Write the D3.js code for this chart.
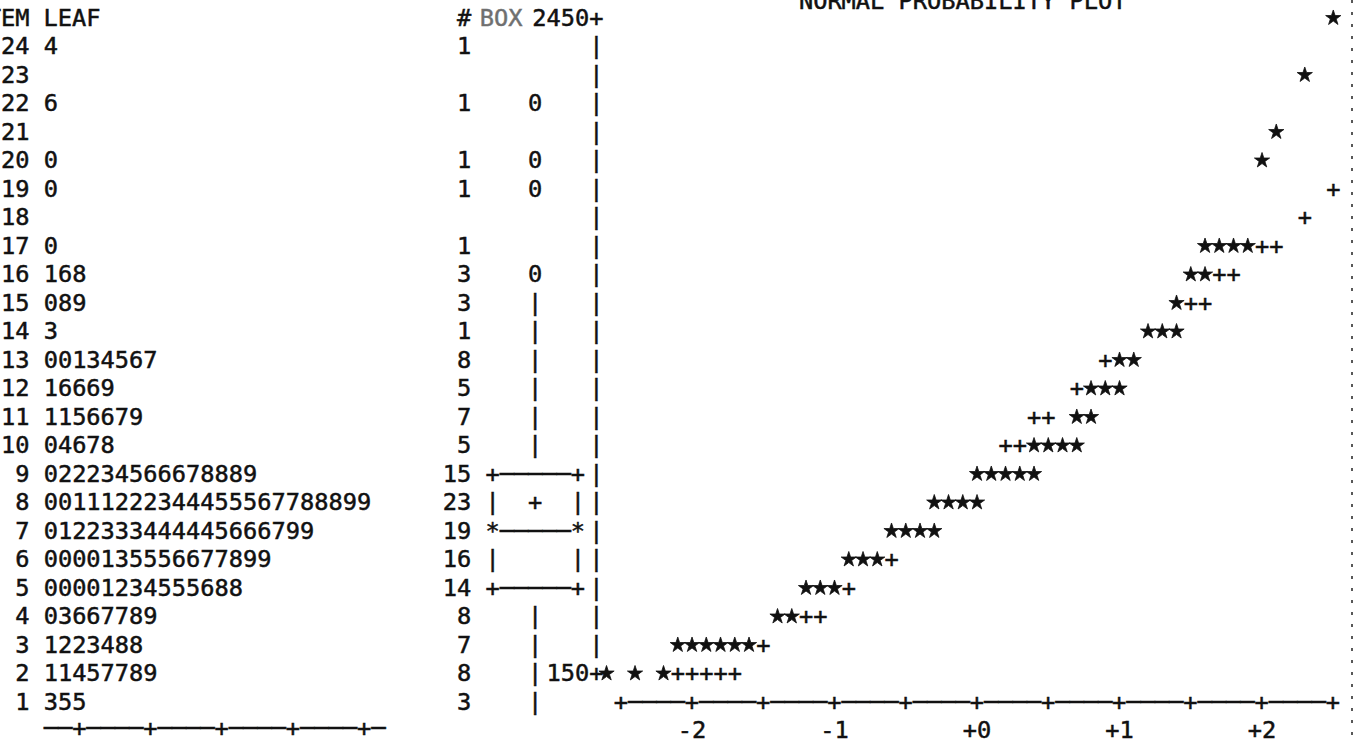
<!DOCTYPE html>
<html>
<head>
<meta charset="utf-8">
<script src="https://cdn.jsdelivr.net/npm/d3@7"></script>
<style>
  html, body { margin: 0; padding: 0; background: #fff; }
  svg { display: block; }
  text { font-family: "DejaVu Sans Mono", monospace; font-size: 23.67px; fill: #111; stroke: #111; stroke-width: 0.5px; }
</style>
</head>
<body>
<svg id="chart" width="1357" height="743"></svg>
<script>
// stem and leaf display (leaf unit 10)
var stems = d3.range(24, 0, -1);
var leaves = ["4", "", "6", "", "0", "0", "", "0", "168", "089", "3", "00134567", "16669",
    "1156679", "04678", "022234566678889", "00111222344455567788899", "0122333444445666799",
    "0000135556677899", "00001234555688", "03667789", "1223488", "11457789", "355"];
var counts = ["1", "", "1", "", "1", "1", "", "1", "3", "3", "1", "8", "5",
    "7", "5", "15", "23", "19", "16", "14", "8", "7", "8", "3"];

// boxplot, in stem units
var boxQ1 = 5, boxMedian = 7, boxQ3 = 9, boxMean = 8;
var whiskerLow = 1, whiskerHigh = 15;
var outlierStems = [22, 20, 19, 16];

// normal probability plot: one printed line each (level, first normal score, marks)
var probLevels = [2450, 2250, 2050, 1950, 1850, 1750, 1650, 1550, 1450, 1350, 1250,
    1150, 1050, 950, 850, 750, 650, 550, 450, 350, 250, 150];
var probStart = [2.5, 2.3, 2.1, 2.0, 2.5, 2.3, 1.6, 1.5, 1.4, 1.2, 0.9,
    0.7, 0.4, 0.2, 0.0, -0.3, -0.6, -0.9, -1.2, -1.4, -2.1, -2.6];
var probMarks = ["*", "*", "*", "*", "+", "+", "****++", "**++", "*++", "***", "+**",
    "+***", "++ **", "++****", "*****", "****", "****", "***+", "***+", "**++", "******+", "* * *+++++"];

var yTickValues = [2450, 150];
var xTickValues = [-2, -1, 0, 1, 2];
var xTickLabels = ["-2", "-1", "+0", "+1", "+2"];

var svg = d3.select("#chart"),
    charW = 14.25,
    baseOff = 8.5,
    axisShift = 4;

//printer grid: line 0 is the header, line 25 the bottom labels
var lineY = d3.scaleLinear().domain([0, 25]).range([17, 17 + 25 * 28.5]);
var stemY = d3.scaleLinear().domain([24, 1]).range([lineY(1), lineY(24)]);

function colX(c) {
    return 0.9 + c * charW;
}

//normal plot scales
var x = d3.scaleLinear().domain([-2.5, 2.5]).range([colX(43) + charW / 2, colX(93) + charW / 2]);
var y = d3.scaleLinear().domain([2450, 150]).range([lineY(0), lineY(23)]);

//title, cut by the top of the page
svg.append("text")
    .attr("x", colX(56))
    .attr("y", 9)
    .text("NORMAL PROBABILITY PLOT");

//headers
svg.append("text").attr("x", colX(-2)).attr("y", lineY(0) + baseOff).text("STEM LEAF");
svg.append("text").attr("x", colX(32)).attr("y", lineY(0) + baseOff).text("#");
svg.append("text").attr("x", colX(33.6)).attr("y", lineY(0) + baseOff).style("opacity", 0.6).text("BOX");

//stems, leaves, counts
var rows = svg.append("g").attr("class", "stem-leaf")
    .selectAll("g")
    .data(stems)
    .enter().append("g")
    .attr("transform", function(d) {
        return "translate(0," + (stemY(d) + baseOff) + ")";
    });

rows.append("text")
    .attr("x", colX(2))
    .attr("text-anchor", "end")
    .text(function(d) { return d; });

rows.append("text")
    .attr("x", colX(3))
    .text(function(d, i) { return leaves[i]; });

rows.append("text")
    .attr("x", colX(33))
    .attr("text-anchor", "end")
    .text(function(d, i) { return counts[i]; });

//boxplot drawn like the printer does it
function boxLine(k) {
    if (outlierStems.indexOf(k) >= 0) return "   0";
    if (k == boxQ1 || k == boxQ3) return "+\u2500\u2500\u2500\u2500\u2500+";
    if (k == boxMedian) return "*\u2500\u2500\u2500\u2500\u2500*";
    if (k > boxQ1 && k < boxQ3) return k == boxMean ? "|  +  |" : "|     |";
    if ((k >= whiskerLow && k < boxQ1) || (k > boxQ3 && k <= whiskerHigh)) return "   |";
    return "";
}

svg.append("g").attr("class", "boxplot")
    .selectAll("text")
    .data(stems)
    .enter().append("text")
    .attr("x", colX(34))
    .attr("y", function(d) { return stemY(d) + baseOff; })
    .style("white-space", "pre")
    .text(boxLine);

//stem leaf footer
svg.append("text")
    .attr("x", colX(3))
    .attr("y", lineY(25) + baseOff - 2)
    .style("white-space", "pre")
    .text("\u2500\u2500+\u2500\u2500\u2500\u2500+\u2500\u2500\u2500\u2500+\u2500\u2500\u2500\u2500+\u2500\u2500\u2500\u2500+\u2500");

//vertical axis of the normal plot
var axisG = svg.append("g").attr("class", "prob-axis");

axisG.selectAll(".ytick")
    .data(yTickValues)
    .enter().append("text")
    .attr("class", "ytick")
    .attr("x", colX(42) + axisShift)
    .attr("y", function(d) { return y(d) + baseOff; })
    .attr("text-anchor", "end")
    .text(function(d) { return d + "+"; });

axisG.selectAll(".ybar")
    .data(d3.range(1, 23))
    .enter().append("text")
    .attr("class", "ybar")
    .attr("x", colX(41) + axisShift)
    .attr("y", function(d) { return lineY(d) + baseOff; })
    .text("|");

//horizontal axis: a tick every half unit
var axisChars = d3.range(51).map(function(i) {
    return i % 5 == 0 ? "+" : "\u2500";
}).join("");

axisG.append("text")
    .attr("x", x(-2.5) - charW / 2)
    .attr("y", lineY(24) + baseOff)
    .text(axisChars);

axisG.selectAll(".xlabel")
    .data(xTickValues)
    .enter().append("text")
    .attr("class", "xlabel")
    .attr("x", function(d) { return x(d); })
    .attr("y", lineY(25) + baseOff)
    .attr("text-anchor", "middle")
    .text(function(d, i) { return xTickLabels[i]; });

//points (*) and reference line (+)
var marks = [];
probLevels.forEach(function(level, i) {
    probMarks[i].split("").forEach(function(ch, j) {
        if (ch == " ") return;
        marks.push({ level: level, z: Math.round(probStart[i] * 10 + j) / 10, ch: ch });
    });
});

var star = d3.symbol().type(d3.symbolStar).size(72);

svg.append("g")
    .selectAll("path")
    .data(marks.filter(function(d) { return d.ch == "*"; }))
    .enter().append("path")
    .attr("d", star)
    .attr("transform", function(d) {
        return "translate(" + x(d.z) + "," + (y(d.level) + 1) + ")";
    })
    .style("fill", "#111")
    .style("stroke", "#111")
    .style("stroke-width", 0.8);

svg.append("g")
    .selectAll("text")
    .data(marks.filter(function(d) { return d.ch == "+"; }))
    .enter().append("text")
    .attr("x", function(d) { return x(d.z); })
    .attr("y", function(d) { return y(d.level) + baseOff; })
    .attr("text-anchor", "middle")
    .text("+");

//ragged right edge of the listing
svg.append("line")
    .attr("x1", 1352).attr("x2", 1352)
    .attr("y1", 0).attr("y2", 743)
    .attr("stroke", "#222")
    .attr("stroke-width", 1.5)
    .attr("stroke-dasharray", "3,9");
</script>
</body>
</html>
